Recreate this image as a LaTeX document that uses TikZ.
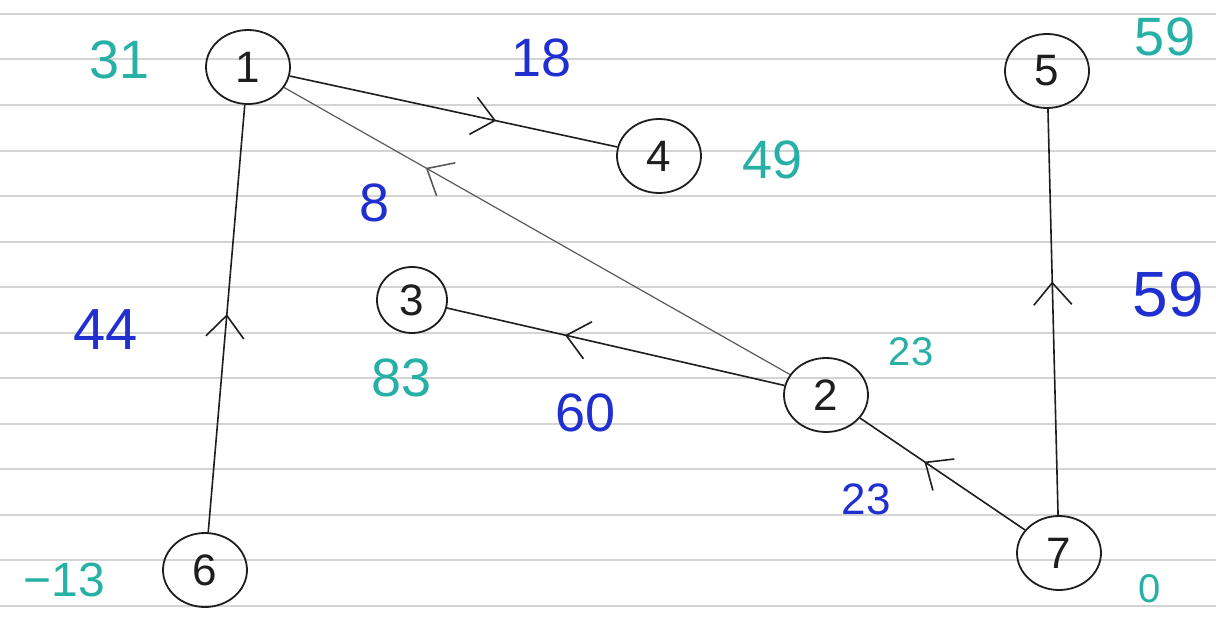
\documentclass[tikz,border=0pt]{standalone}
\usepackage{fontspec}
\setmainfont{Liberation Sans}
\usetikzlibrary{arrows.meta,decorations.markings,shapes.geometric}
\definecolor{tealink}{HTML}{26B0A6}
\definecolor{blueink}{HTML}{1F2FD0}
\definecolor{ruleline}{HTML}{D4D4D4}
\definecolor{ink}{HTML}{1E1E1E}
\definecolor{paleink}{HTML}{5A5A5A}
\begin{document}
\begin{tikzpicture}[x=1pt,y=-1pt,
  vert/.style={draw=ink,line width=1.8pt,ellipse,inner sep=0pt,minimum width=84pt,minimum height=74pt,font=\fontsize{44}{44}\selectfont,text=ink},
  wt/.style={text=blueink,font=\fontsize{54}{54}\selectfont,inner sep=0pt},
  dist/.style={text=tealink,font=\fontsize{54}{54}\selectfont,inner sep=0pt},
  edge/.style={draw=ink,line width=1.6pt},
  midarrow/.style={postaction={decorate},decoration={markings,mark=at position #1 with {\arrow{Straight Barb[length=22pt,width=38pt,line width=1.6pt]}}}},
]
\useasboundingbox (0,0) rectangle (1216,618);
\fill[white] (0,0) rectangle (1216,618);
\foreach \k in {0,...,13} \draw[ruleline,line width=2pt] (0,{14+45.5*\k}) -- (1216,{14+45.5*\k});

\node[vert] (n1) at (248,67) {1};
\node[vert] (n4) at (659,156) {4};
\node[vert] (n5) at (1047,71) {5};
\node[vert,minimum width=70pt,minimum height=66pt] (n3) at (412,300) {3};
\node[vert] (n2) at (826,395) {2};
\node[vert] (n6) at (205,570) {6};
\node[vert] (n7) at (1059,553) {7};

\draw[edge,midarrow=0.63] (n1) -- (n4);
\draw[edge,draw=paleink,line width=1.2pt,midarrow=0.72] (n2) -- (n1);
\draw[edge,midarrow=0.51] (n6) -- (n1);
\draw[edge,midarrow=0.65] (n2) -- (n3);
\draw[edge,midarrow=0.61] (n7) -- (n2);
\draw[edge,midarrow=0.575] (n7) -- (n5);

\node[dist] (d1) at (120,60) {31};
\node[dist] (d4) at (773,160) {49};
\node[dist] (d5) at (1165,37) {59};
\node[dist] (d3) at (402,378) {83};
\node[dist,font=\fontsize{40}{40}\selectfont] (d2) at (911,352) {23};
\node[dist,font=\fontsize{48}{48}\selectfont] (d6) at (64,580) {−13};
\node[dist,font=\fontsize{40}{40}\selectfont] (d7) at (1150,589) {0};

\node[wt] (w14) at (542,58) {18};
\node[wt] (w21) at (375,203) {8};
\node[wt,font=\fontsize{58}{58}\selectfont] (w61) at (106,330) {44};
\node[wt] (w23) at (586,413) {60};
\node[wt,font=\fontsize{44}{44}\selectfont] (w72) at (866,499) {23};
\node[wt,font=\fontsize{64}{64}\selectfont] (w75) at (1168,294) {59};
\end{tikzpicture}
\end{document}
